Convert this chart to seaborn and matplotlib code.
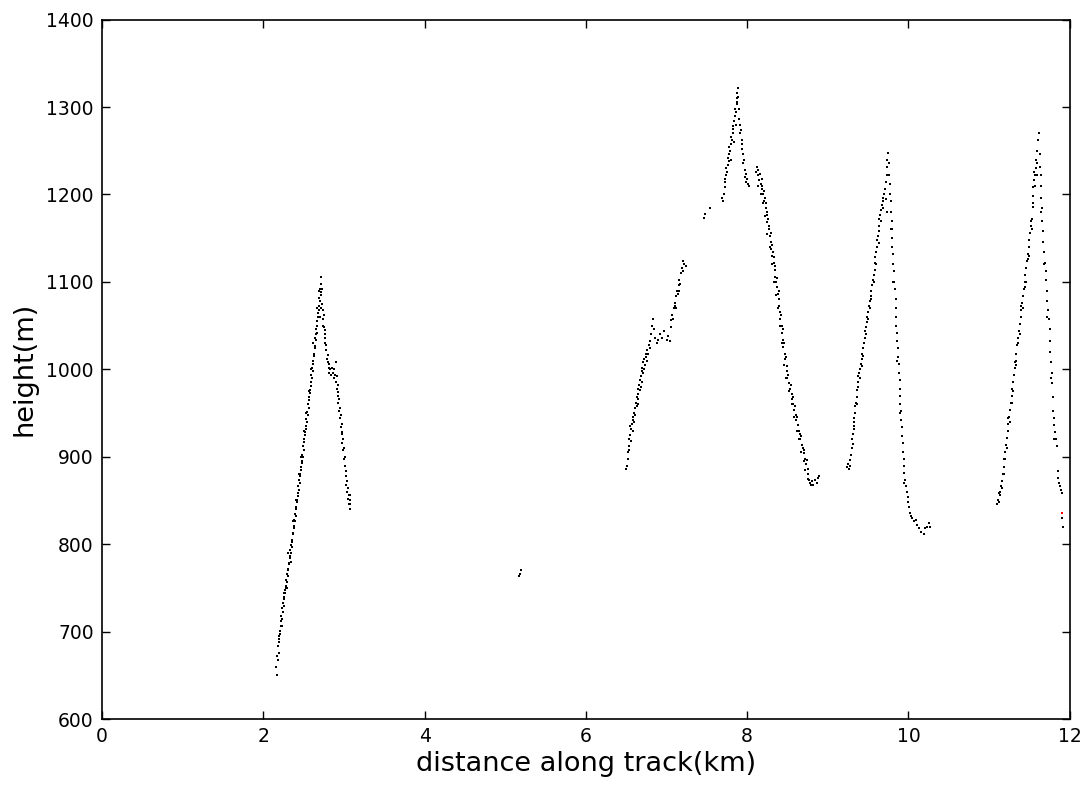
import pandas as pd
import matplotlib
matplotlib.use("Agg")
import matplotlib.pyplot as plt
import seaborn as sns

# (distance km, height m)
ridge1_up = [
    (2.16, 660), (2.17, 650), (2.175, 672), (2.18, 668), (2.185, 683), (2.19, 676), (2.195, 695),
    (2.20, 688), (2.205, 701), (2.21, 697), (2.215, 712), (2.22, 706), (2.225, 718), (2.23, 715),
    (2.235, 727), (2.24, 722), (2.245, 733), (2.25, 729), (2.255, 740), (2.26, 737), (2.265, 748),
    (2.27, 744), (2.275, 752), (2.28, 750), (2.285, 759), (2.29, 757), (2.295, 766), (2.30, 764),
    (2.305, 772), (2.31, 770), (2.315, 779), (2.32, 777), (2.325, 786), (2.33, 784), (2.335, 793),
    (2.34, 790), (2.345, 799), (2.35, 797), (2.355, 805), (2.36, 803), (2.365, 813), (2.37, 812),
    (2.375, 821), (2.38, 818), (2.385, 828), (2.39, 826), (2.395, 835), (2.40, 832), (2.405, 842),
    (2.41, 840), (2.415, 850), (2.42, 848), (2.425, 858), (2.43, 855), (2.435, 866), (2.44, 862),
    (2.445, 873), (2.45, 870), (2.455, 880), (2.46, 878), (2.465, 888), (2.47, 885), (2.475, 895),
    (2.48, 893), (2.485, 902), (2.49, 900), (2.495, 912), (2.50, 908), (2.505, 920), (2.51, 917),
    (2.515, 928), (2.52, 925), (2.525, 935), (2.53, 932), (2.535, 943), (2.54, 940), (2.545, 951),
    (2.55, 948), (2.555, 960), (2.56, 956), (2.565, 968), (2.57, 965), (2.575, 976), (2.58, 973),
    (2.585, 985), (2.59, 981), (2.595, 993), (2.60, 990), (2.605, 1002), (2.61, 998), (2.615, 1010),
    (2.62, 1006), (2.625, 1018), (2.63, 1015), (2.635, 1027), (2.64, 1024), (2.645, 1036),
    (2.65, 1033), (2.655, 1046), (2.66, 1042), (2.665, 1055), (2.67, 1050), (2.675, 1064),
    (2.68, 1060), (2.685, 1072), (2.69, 1068), (2.695, 1082), (2.70, 1078), (2.705, 1092),
    (2.71, 1088), (2.715, 1106),
    (2.20, 692), (2.23, 706), (2.26, 744), (2.29, 750), (2.31, 790), (2.34, 780), (2.37, 826),
    (2.40, 850), (2.44, 880), (2.47, 900), (2.50, 930), (2.53, 950), (2.56, 975), (2.59, 1000),
    (2.62, 1030), (2.65, 1040), (2.67, 1070), (2.69, 1090), (2.70, 1060),
]
ridge1_down = [
    (2.72, 1098), (2.72, 1085), (2.73, 1092), (2.73, 1075), (2.74, 1068), (2.74, 1058), (2.75, 1062),
    (2.75, 1048), (2.76, 1045), (2.76, 1036), (2.77, 1040), (2.77, 1030), (2.78, 1028), (2.78, 1022),
    (2.79, 1012), (2.80, 1008), (2.80, 1016), (2.81, 1002), (2.82, 1006), (2.82, 996), (2.83, 1000),
    (2.84, 994), (2.85, 1002), (2.86, 996), (2.87, 990), (2.88, 1000), (2.89, 994), (2.90, 1008),
    (2.90, 986), (2.91, 992), (2.91, 978), (2.92, 982), (2.92, 970), (2.93, 974), (2.93, 962),
    (2.94, 966), (2.94, 952), (2.95, 956), (2.95, 944), (2.96, 948), (2.96, 934), (2.97, 938),
    (2.97, 926), (2.98, 928), (2.98, 916), (2.99, 920), (2.99, 908), (3.00, 910), (3.00, 898),
    (3.01, 900), (3.01, 890), (3.02, 884), (3.03, 878), (3.03, 868), (3.04, 872), (3.04, 860),
    (3.05, 864), (3.05, 852), (3.06, 856), (3.06, 846), (3.07, 850), (3.07, 840), (3.08, 846),
    (3.08, 856), (2.72, 1070), (2.74, 1050),
]
stray = [(5.17, 764), (5.18, 766), (5.20, 770)]
ridge2_up = [
    (6.50, 886), (6.51, 890), (6.52, 898), (6.52, 905), (6.53, 912), (6.54, 908), (6.54, 920),
    (6.55, 925), (6.56, 918), (6.56, 932), (6.57, 938), (6.58, 930), (6.58, 946), (6.59, 942),
    (6.60, 950), (6.61, 956), (6.61, 948), (6.62, 962), (6.63, 958), (6.63, 968), (6.64, 972),
    (6.65, 966), (6.65, 978), (6.66, 982), (6.67, 976), (6.67, 988), (6.68, 992), (6.69, 986),
    (6.69, 998), (6.70, 1002), (6.71, 996), (6.71, 1008), (6.72, 1012), (6.73, 1005), (6.74, 1018),
    (6.75, 1014), (6.76, 1022), (6.77, 1018), (6.78, 1028), (6.79, 1024), (6.80, 1032), (6.81, 1040),
    (6.82, 1050), (6.83, 1058), (6.84, 1046),
    (6.55, 935), (6.60, 940), (6.64, 960), (6.68, 980), (6.72, 1000), (6.76, 1010),
    (6.86, 1036), (6.88, 1030), (6.90, 1034), (6.92, 1040), (6.94, 1036), (6.97, 1044), (7.00, 1034),
    (7.02, 1038), (7.04, 1032), (7.05, 1048), (7.06, 1056), (7.07, 1062), (7.08, 1058), (7.09, 1070),
    (7.10, 1076), (7.11, 1072), (7.12, 1084), (7.13, 1090), (7.14, 1086), (7.15, 1096), (7.16, 1102),
    (7.17, 1098), (7.18, 1110), (7.19, 1116), (7.20, 1124), (7.21, 1112), (7.22, 1120), (7.24, 1118),
    (7.12, 1070), (7.16, 1090),
    (7.47, 1173), (7.48, 1178), (7.54, 1185), (7.69, 1196), (7.70, 1192), (7.71, 1200),
]
ridge2_peak = [
    (7.72, 1208), (7.72, 1218), (7.73, 1214), (7.74, 1222), (7.74, 1230), (7.75, 1226), (7.76, 1234),
    (7.76, 1242), (7.77, 1238), (7.78, 1246), (7.78, 1254), (7.79, 1250), (7.80, 1258), (7.80, 1266),
    (7.81, 1262), (7.82, 1270), (7.82, 1278), (7.83, 1275), (7.84, 1284), (7.85, 1290), (7.85, 1298),
    (7.86, 1294), (7.87, 1304), (7.87, 1310), (7.88, 1316), (7.88, 1306), (7.89, 1322), (7.89, 1312),
    (7.90, 1298), (7.90, 1286), (7.91, 1280), (7.91, 1270), (7.92, 1274), (7.93, 1262), (7.93, 1252),
    (7.94, 1258), (7.95, 1246), (7.95, 1236), (7.96, 1240), (7.97, 1228), (7.97, 1220), (7.98, 1224),
    (7.99, 1214), (8.00, 1218), (8.01, 1212), (8.02, 1210),
    (7.80, 1240), (7.84, 1260), (7.86, 1280),
]
ridge2_down = [
    (8.11, 1226), (8.12, 1232), (8.13, 1222), (8.14, 1228), (8.15, 1216), (8.16, 1224), (8.17, 1212),
    (8.18, 1218), (8.18, 1206), (8.19, 1210), (8.20, 1200), (8.21, 1204), (8.21, 1192), (8.22, 1196),
    (8.23, 1184), (8.23, 1190), (8.24, 1176), (8.25, 1180), (8.25, 1168), (8.26, 1172), (8.27, 1160),
    (8.27, 1164), (8.28, 1152), (8.29, 1146), (8.29, 1156), (8.30, 1138), (8.31, 1142), (8.31, 1130),
    (8.32, 1134), (8.33, 1122), (8.33, 1128), (8.34, 1114), (8.35, 1118), (8.35, 1106), (8.36, 1100),
    (8.37, 1094), (8.37, 1104), (8.38, 1086), (8.39, 1080), (8.39, 1090), (8.40, 1072), (8.41, 1066),
    (8.41, 1058), (8.42, 1062), (8.43, 1050), (8.43, 1042), (8.44, 1046), (8.45, 1034), (8.45, 1026),
    (8.46, 1030), (8.47, 1018), (8.47, 1012), (8.48, 1014), (8.49, 1004), (8.50, 998), (8.50, 990),
    (8.51, 994), (8.52, 984), (8.53, 978), (8.54, 982), (8.55, 972), (8.56, 966), (8.57, 960),
    (8.57, 968), (8.58, 954), (8.59, 958), (8.60, 948), (8.61, 942), (8.62, 946), (8.63, 936),
    (8.64, 930), (8.65, 926), (8.66, 920), (8.67, 924), (8.68, 914), (8.69, 910), (8.70, 904),
    (8.71, 908), (8.72, 898), (8.73, 892), (8.74, 896), (8.75, 886), (8.76, 880), (8.77, 874),
    (8.78, 870), (8.79, 868), (8.80, 872), (8.82, 868), (8.84, 874), (8.86, 870), (8.88, 876),
    (8.89, 878),
    (8.14, 1210), (8.17, 1200), (8.20, 1190), (8.22, 1175), (8.25, 1155), (8.28, 1140), (8.31, 1120),
    (8.33, 1100), (8.36, 1085), (8.38, 1070), (8.41, 1050), (8.43, 1030), (8.46, 1005), (8.48, 990),
    (8.52, 975), (8.55, 960), (8.58, 945), (8.62, 930), (8.64, 920), (8.67, 905), (8.70, 895),
    (8.72, 885), (8.75, 875),
]
ridge3_up = [
    (9.24, 888), (9.25, 892), (9.26, 886), (9.27, 890), (9.28, 896), (9.29, 902), (9.30, 910),
    (9.30, 920), (9.31, 926), (9.32, 932), (9.32, 940), (9.33, 944), (9.34, 950), (9.34, 958),
    (9.35, 962), (9.36, 968), (9.36, 976), (9.37, 980), (9.38, 986), (9.38, 992), (9.39, 996),
    (9.40, 1000), (9.41, 1006), (9.42, 1012), (9.42, 1004), (9.43, 1018), (9.44, 1024), (9.45, 1030),
    (9.46, 1036), (9.46, 1044), (9.47, 1048), (9.48, 1054), (9.49, 1060), (9.50, 1066), (9.51, 1072),
    (9.52, 1078), (9.52, 1070), (9.53, 1084), (9.54, 1090), (9.55, 1096), (9.56, 1102), (9.57, 1108),
    (9.58, 1114), (9.58, 1122), (9.59, 1128), (9.60, 1134), (9.61, 1140), (9.61, 1148), (9.62, 1152),
    (9.63, 1158), (9.64, 1164), (9.64, 1172), (9.65, 1176), (9.66, 1182), (9.67, 1188), (9.68, 1192),
    (9.69, 1196), (9.70, 1200), (9.71, 1206), (9.72, 1214), (9.73, 1222), (9.74, 1232), (9.74, 1240),
    (9.75, 1248),
    (9.31, 915), (9.33, 935), (9.36, 960), (9.40, 990), (9.44, 1015), (9.47, 1040), (9.50, 1058),
    (9.54, 1080), (9.57, 1100), (9.60, 1120), (9.63, 1145), (9.66, 1170), (9.69, 1185), (9.72, 1195),
    (9.73, 1180),
]
ridge3_down = [
    (9.76, 1236), (9.76, 1222), (9.77, 1212), (9.77, 1200), (9.78, 1192), (9.78, 1180), (9.79, 1170),
    (9.79, 1160), (9.80, 1150), (9.80, 1140), (9.81, 1132), (9.81, 1120), (9.82, 1112), (9.82, 1100),
    (9.83, 1092), (9.84, 1080), (9.84, 1070), (9.85, 1060), (9.85, 1050), (9.86, 1042), (9.86, 1032),
    (9.87, 1024), (9.87, 1014), (9.88, 1006), (9.88, 996), (9.89, 988), (9.89, 978), (9.90, 970),
    (9.90, 960), (9.91, 952), (9.91, 942), (9.92, 934), (9.92, 924), (9.93, 916), (9.93, 906),
    (9.94, 898), (9.94, 890), (9.95, 882), (9.96, 874), (9.97, 866), (9.98, 860), (9.99, 854),
    (10.00, 848), (10.01, 842), (10.02, 836), (10.03, 832), (10.05, 830), (10.07, 826), (10.09, 828),
    (10.11, 822), (10.13, 818), (10.16, 814), (10.19, 812), (10.21, 818), (10.23, 820), (10.25, 824),
    (10.27, 820),
    (9.78, 1160), (9.81, 1100), (9.86, 1010), (9.90, 950), (9.94, 870),
]
ridge4_up = [
    (11.10, 846), (11.11, 850), (11.12, 848), (11.12, 858), (11.13, 856), (11.14, 860), (11.15, 866),
    (11.16, 872), (11.16, 864), (11.17, 880), (11.18, 888), (11.19, 898), (11.20, 906), (11.20, 898),
    (11.21, 914), (11.22, 922), (11.23, 930), (11.24, 938), (11.24, 944), (11.25, 946), (11.26, 954),
    (11.27, 962), (11.28, 970), (11.28, 962), (11.29, 978), (11.30, 986), (11.31, 994), (11.32, 1002),
    (11.32, 1008), (11.33, 1010), (11.34, 1018), (11.35, 1028), (11.36, 1036), (11.36, 1030),
    (11.37, 1044), (11.38, 1052), (11.39, 1060), (11.40, 1068), (11.40, 1072), (11.41, 1076),
    (11.42, 1084), (11.43, 1092), (11.44, 1100), (11.44, 1094), (11.45, 1108), (11.46, 1116),
    (11.47, 1124), (11.48, 1132), (11.48, 1126), (11.49, 1140), (11.50, 1148), (11.51, 1156),
    (11.52, 1164), (11.52, 1170), (11.53, 1172), (11.54, 1186), (11.54, 1198), (11.55, 1208),
    (11.56, 1216), (11.56, 1226), (11.57, 1222), (11.58, 1230), (11.58, 1240), (11.59, 1236),
    (11.60, 1250), (11.61, 1262), (11.62, 1270),
    (11.18, 880), (11.22, 910), (11.26, 940), (11.30, 975), (11.34, 1005), (11.38, 1040),
    (11.42, 1070), (11.46, 1100), (11.50, 1130), (11.53, 1160), (11.55, 1190), (11.57, 1210),
    (11.59, 1222),
]
ridge4_down = [
    (11.63, 1246), (11.63, 1232), (11.64, 1222), (11.65, 1210), (11.65, 1196), (11.66, 1184),
    (11.66, 1170), (11.67, 1158), (11.67, 1146), (11.68, 1134), (11.69, 1122), (11.70, 1112),
    (11.71, 1102), (11.72, 1090), (11.72, 1078), (11.73, 1068), (11.74, 1058), (11.75, 1046),
    (11.76, 1032), (11.76, 1020), (11.77, 1008), (11.78, 996), (11.78, 984), (11.79, 968),
    (11.79, 952), (11.80, 944), (11.81, 936), (11.82, 928), (11.83, 920), (11.84, 912), (11.85, 884),
    (11.86, 876), (11.87, 870), (11.88, 866), (11.89, 862), (11.90, 858), (11.91, 830), (11.92, 820),
    (11.64, 1180), (11.68, 1120), (11.72, 1060), (11.77, 990), (11.80, 920),
]
flagged = [(11.91, 836)]

segments = [ridge1_up, ridge1_down, stray, ridge2_up, ridge2_peak, ridge2_down,
            ridge3_up, ridge3_down, ridge4_up, ridge4_down]
track = pd.DataFrame([p for seg in segments for p in seg], columns=["km", "height"])
red = pd.DataFrame(flagged, columns=["km", "height"])

sns.set_style("ticks", {
    "xtick.direction": "in", "ytick.direction": "in",
    "axes.edgecolor": "black", "text.color": "black",
    "axes.labelcolor": "black", "xtick.color": "black", "ytick.color": "black",
})
plt.rcParams["font.family"] = ["DejaVu Sans"]

fig = plt.figure(figsize=(10.86, 7.85), dpi=100)
ax = fig.add_axes([0.094, 0.084, 0.891, 0.891])

sns.scatterplot(data=track, x="km", y="height", marker="s", s=4, color="black",
                linewidth=0, ax=ax)
sns.scatterplot(data=red, x="km", y="height", marker="s", s=4, color="red",
                linewidth=0, ax=ax)

ax.set_xlim(0, 12)
ax.set_ylim(600, 1400)
ax.set_xticks(range(0, 13, 2))
ax.set_yticks(range(600, 1401, 100))
ax.tick_params(axis="both", which="both", direction="in", length=6, width=1,
               top=True, right=True, labelsize=13.5, colors="black", pad=6)
for side in ax.spines.values():
    side.set_linewidth(1.2)
    side.set_color("black")
ax.set_xlabel("distance along track(km)", fontsize=19.5, labelpad=3)
ax.set_ylabel("height(m)", fontsize=19.5, labelpad=6)

fig.savefig("out.png", dpi=100)
